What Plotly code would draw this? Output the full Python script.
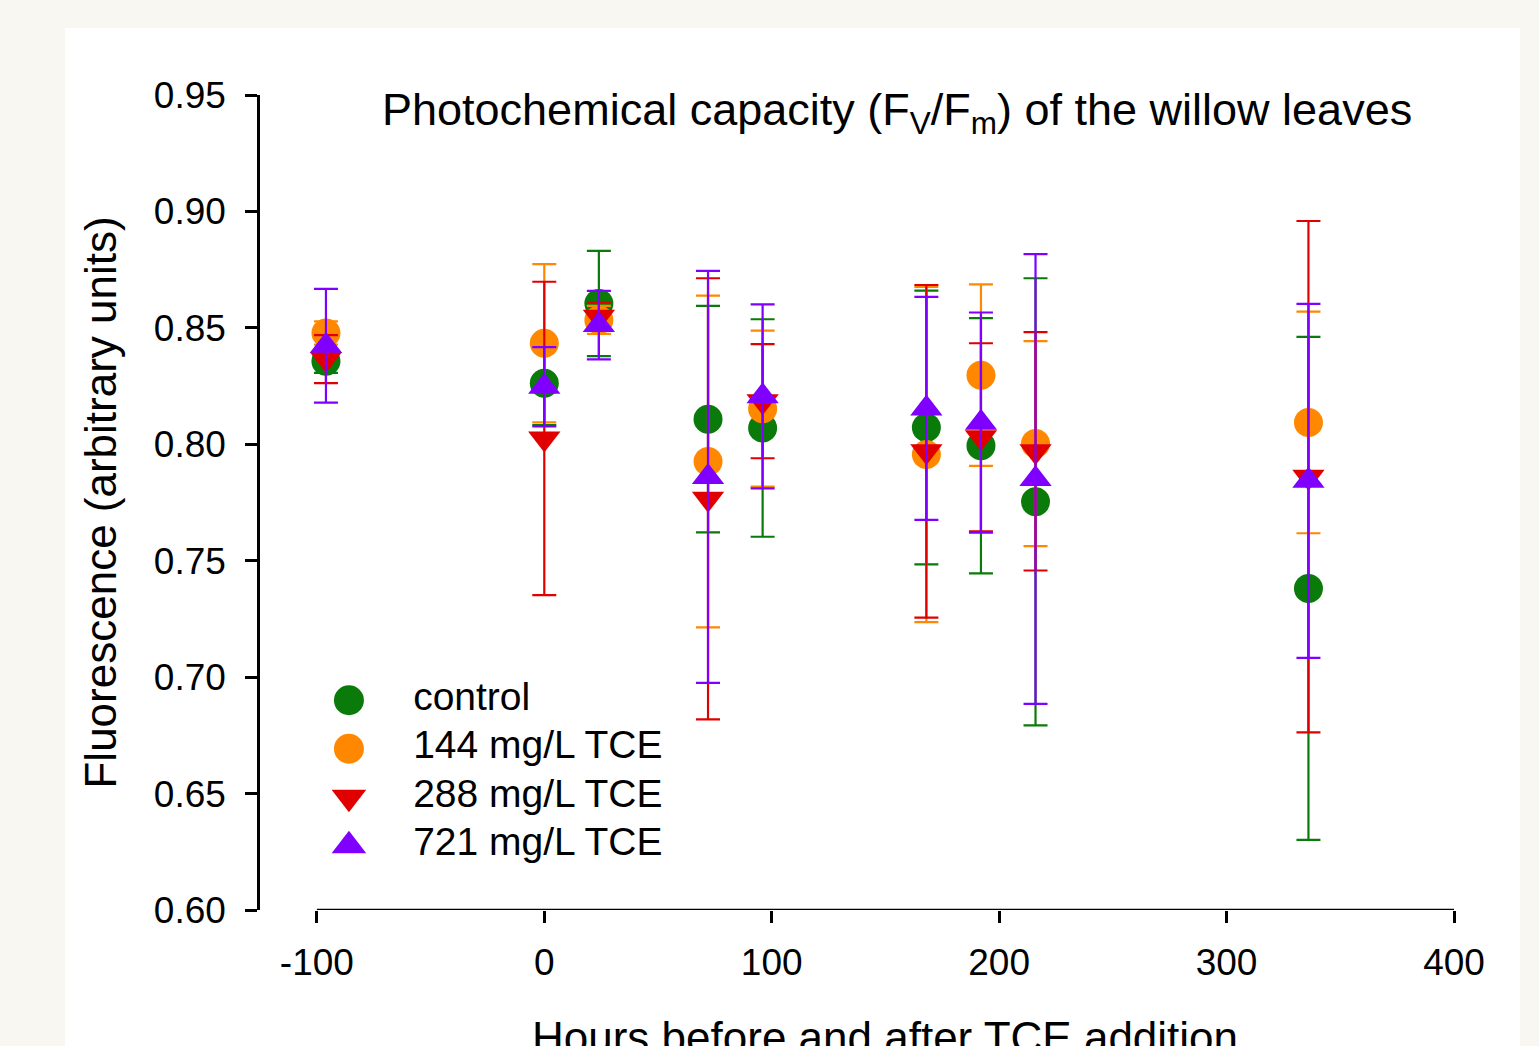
import plotly.graph_objects as go

# ---------------- data ----------------
hours = [-96, 0, 24, 72, 96, 168, 192, 216, 336]

series_names = ["control", "144 mg/L TCE", "288 mg/L TCE", "721 mg/L TCE"]

control_mean = [0.8357, 0.8262, 0.8605, 0.8108, 0.8070, 0.8072, 0.7994, 0.7753, 0.7381]
control_err = [0.0050, 0.0180, 0.0226, 0.0486, 0.0467, 0.0588, 0.0548, 0.0960, 0.1080]

tce144_mean = [0.8478, 0.8434, 0.8534, 0.7926, 0.8153, 0.7956, 0.8297, 0.8003, 0.8094]
tce144_err = [0.0050, 0.0340, 0.0060, 0.0712, 0.0335, 0.0720, 0.0390, 0.0440, 0.0476]

tce288_mean = [0.8366, 0.8025, 0.8548, 0.7766, 0.8185, 0.7970, 0.8030, 0.7970, 0.7861]
tce288_err = [0.0103, 0.0673, 0.0060, 0.0947, 0.0245, 0.0714, 0.0404, 0.0512, 0.1098]

tce721_mean = [0.8423, 0.8247, 0.8512, 0.7860, 0.8206, 0.8154, 0.8093, 0.7851, 0.7843]
tce721_err = [0.0244, 0.0170, 0.0147, 0.0885, 0.0395, 0.0479, 0.0473, 0.0966, 0.0760]

x_ticks = [-100, 0, 100, 200, 300, 400]
y_ticks = [0.60, 0.65, 0.70, 0.75, 0.80, 0.85, 0.90, 0.95]

# ---------------- style ----------------
colors = ["#0a7a0a", "#ff8800", "#e00000", "#7f00ff"]
symbols = ["circle", "circle", "triangle-down", "triangle-up"]
sizes = [29, 29, 28, 28]
FONT = "Liberation Sans, Arial, sans-serif"
PAGE_BG = "#f8f7f1"

means = [control_mean, tce144_mean, tce288_mean, tce721_mean]
errs = [control_err, tce144_err, tce288_err, tce721_err]

fig = go.Figure()

for name, m, e, c, s, sz in zip(series_names, means, errs, colors, symbols, sizes):
    fig.add_trace(go.Scatter(
        x=hours, y=m, name=name, mode="markers",
        marker=dict(symbol=s, size=sz, color=c, opacity=1, line=dict(width=0)),
        error_y=dict(type="data", array=e, visible=True, color=c,
                     thickness=2.2, width=12),
        showlegend=False,
    ))

# ---- custom legend (larger symbols, like the reference) ----
LEG_MARK_X = 0.076
LEG_TEXT_X = 0.245
fig.add_trace(go.Scatter(
    x=[LEG_MARK_X] * len(series_names), y=series_names,
    xaxis="x2", yaxis="y2", mode="markers",
    marker=dict(symbol=symbols, size=30, color=colors, opacity=1, line=dict(width=0)),
    hoverinfo="skip", showlegend=False,
))
fig.add_trace(go.Scatter(
    x=[LEG_TEXT_X] * len(series_names), y=series_names,
    xaxis="x2", yaxis="y2", mode="text",
    text=series_names, textposition="middle right",
    textfont=dict(family=FONT, size=39, color="black"),
    hoverinfo="skip", showlegend=False,
))

# ---- x axis line only spanning the tick range ----
fig.add_shape(type="line", xref="x", yref="y",
              x0=x_ticks[0], x1=x_ticks[-1], y0=y_ticks[0], y1=y_ticks[0],
              line=dict(color="black", width=2.5), layer="above")

# white panel on the off-white page
fig.add_shape(type="rect", xref="paper", yref="paper",
              x0=-0.1633, x1=1.0553, y0=-0.25, y1=1.0822,
              fillcolor="white", line=dict(width=0), layer="below")

# ---- titles ----
fig.add_annotation(
    text="Photochemical capacity (F<sub>V</sub>/F<sub>m</sub>) of the willow leaves",
    xref="paper", yref="paper", x=0.5335, y=0.978, xanchor="center", yanchor="middle",
    showarrow=False, font=dict(family=FONT, size=45, color="black"))
fig.add_annotation(
    text="Hours before and after TCE addition",
    xref="x", yref="paper", x=150, y=-0.156, xanchor="center", yanchor="middle",
    showarrow=False, font=dict(family=FONT, size=44, color="black"))
fig.add_annotation(
    text="Fluorescence (arbitrary units)",
    xref="paper", yref="paper", x=-0.134, y=0.5, xanchor="center", yanchor="middle",
    textangle=-90, showarrow=False, font=dict(family=FONT, size=44, color="black"))

fig.update_layout(
    width=1539, height=1046,
    margin=dict(l=260, r=85, t=95, b=136),
    paper_bgcolor=PAGE_BG,
    plot_bgcolor="rgba(0,0,0,0)",
    showlegend=False,
    font=dict(family=FONT, color="black"),
    xaxis=dict(
        range=[-125, 400], tickvals=x_ticks, ticktext=[str(v) for v in x_ticks],
        showgrid=False, zeroline=False, showline=False,
        ticks="outside", ticklen=12, tickwidth=2.5, tickcolor="black",
        tickfont=dict(family=FONT, size=37, color="black"), ticklabelstandoff=8,
    ),
    yaxis=dict(
        range=[0.60, 0.95], tickvals=y_ticks, ticktext=[f"{v:.2f}" for v in y_ticks],
        showgrid=False, zeroline=False, showline=True, linewidth=2.5, linecolor="black",
        ticks="outside", ticklen=12, tickwidth=2.5, tickcolor="black",
        tickfont=dict(family=FONT, size=37, color="black"), ticklabelstandoff=12,
    ),
    xaxis2=dict(domain=[0.0503, 0.3685], anchor="y2", range=[0, 1], visible=False),
    yaxis2=dict(domain=[0.0491, 0.2871], anchor="x2", type="category",
                categoryorder="array", categoryarray=series_names,
                range=[3.5, -0.5], autorange=False, visible=False),
)

fig.write_html(
    "out.html",
    config={"displayModeBar": False},
    post_script=(
        "document.body.style.margin='0';"
        "document.body.style.background='" + PAGE_BG + "';"
        "document.body.style.overflow='hidden';"
    ),
)
